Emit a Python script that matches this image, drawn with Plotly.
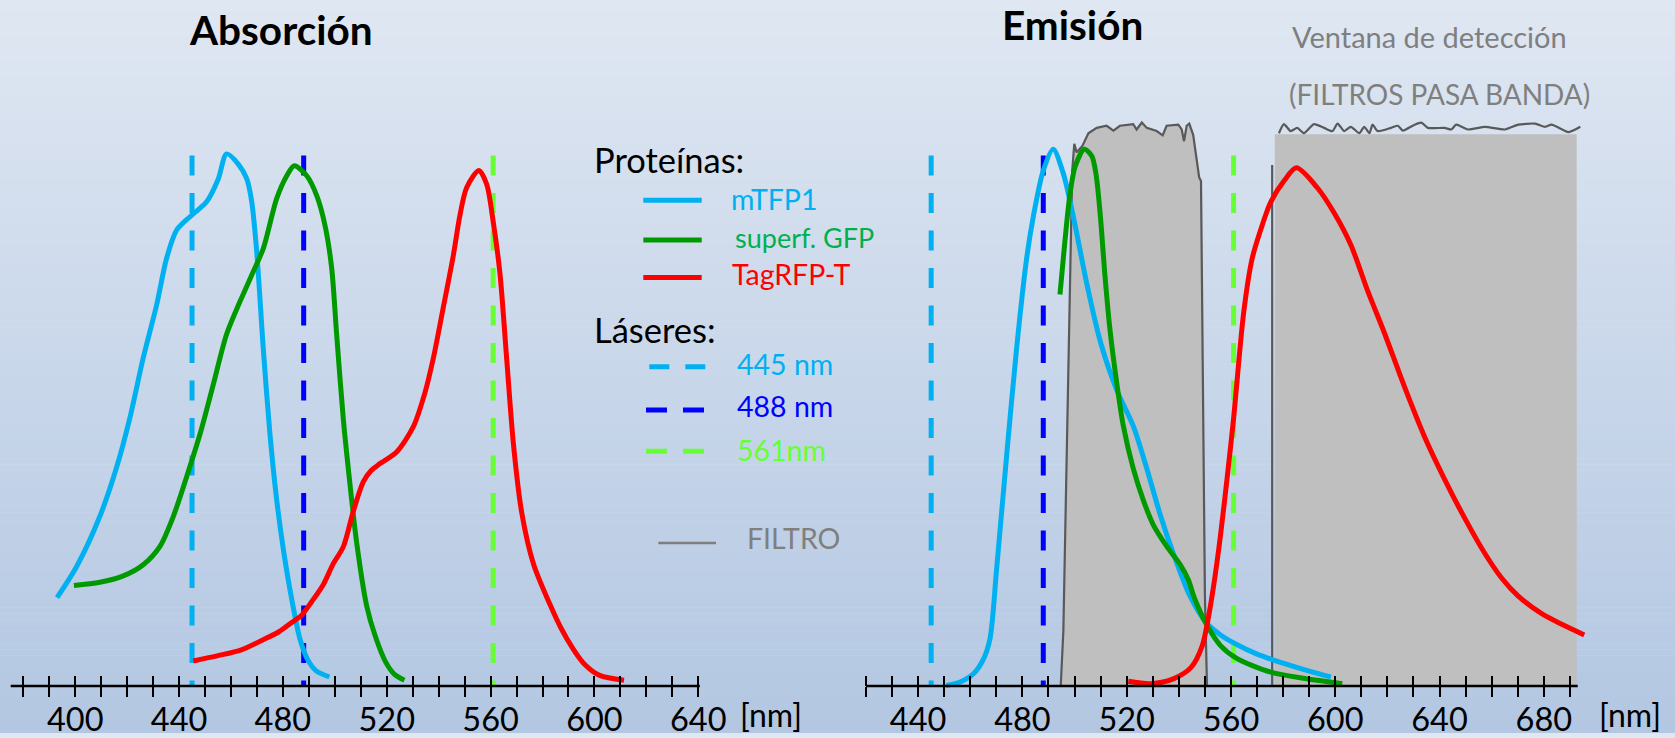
import plotly.graph_objects as go

W, H = 1675, 738

# ---------------- data (nm, relative intensity) ----------------
abs_mtfp1_nm = [393, 400.6, 409.5, 416, 421.1, 426.2, 431.4, 435.2, 439.1, 444.2, 450.6, 455.1, 458.3,
                462.8, 466.1, 468, 469.9, 472.5, 475, 477.6, 480.2, 483.4, 486.6, 489.5, 492.7, 497.9]
abs_mtfp1_y = [16.6, 22.5, 31.9, 41.2, 50.5, 61.7, 71.7, 80.4, 85.7, 88.2, 91.0, 95.3, 100,
               98.1, 95.3, 91.0, 81.7, 63, 47.4, 35, 25.6, 16.3, 8.8, 5, 2.9, 1.7]

abs_gfp_nm = [399.5, 409.5, 418.5, 426.2, 432.7, 437.8, 442.9, 448.1, 453.2, 458.3, 463.5, 468.6, 472.5,
              477.6, 481.5, 484.4, 489.2, 493, 496.2, 498.8, 500.7, 503.3, 505.8, 508.4, 512.3, 515.5,
              519.6, 523, 526.8]
abs_gfp_y = [18.9, 19.5, 20.7, 22.8, 26.3, 31.9, 39.3, 47.4, 56.7, 66.1, 72.3, 77.9, 82.3,
             91.6, 95.9, 97.8, 95.9, 92.2, 86.6, 78.5, 66.1, 50, 38.1, 27, 15, 9.5,
             4.5, 2.2, 1.1]

abs_rfp_nm = [445.5, 455, 464, 472, 478.5, 483, 487, 491, 495.6, 499.4, 503.3, 507.1, 511, 514,
              517.4, 523.8, 530.2, 534.7, 537.9, 541.8, 545.6, 548.2, 550.8, 555.5, 558.5, 561,
              563.6, 566.2, 568.8, 572, 576.5, 582.9, 587, 591.9, 596, 602, 611.4]
abs_rfp_y = [4.7, 5.7, 6.8, 8.6, 10.2, 11.8, 13.2, 15.8, 19.1, 23, 26.2, 32.8, 38.4, 40.5,
             41.8, 44, 48.7, 55.1, 61.5, 71.2, 80.8, 88.5, 93.7, 96.9, 94.3, 87.3,
             77.6, 61.5, 45.5, 32.6, 23, 15.3, 11, 6.9, 4.2, 2.0, 1.1]

em_mtfp1_nm = [450.7, 456.1, 461.2, 465, 467.6, 470.1, 474, 477.8, 481.6, 484.2, 488, 491.8, 495.7,
               499.5, 504.7, 509.8, 516.2, 522.5, 527.7, 532.8, 537.9, 544.3, 550.7, 556, 562.2,
               570, 580, 590, 598.3]
em_mtfp1_y = [0.1, 0.75, 2.3, 5, 9, 22, 43.6, 63.6, 80.3, 88.3, 96.9, 100.9, 96.3,
              88.3, 75.6, 64.9, 55.6, 48.9, 40.9, 32.3, 24.9, 16.9, 11.8, 9.6, 7.8,
              6.0, 4.3, 2.8, 1.7]

em_gfp_nm = [494.4, 496.3, 498.2, 500.2, 503.7, 506.6, 508.2, 509.8, 511.7, 513.6, 516.2, 518.7, 522.5,
             526.4, 530.2, 535.3, 540.4, 543.6, 546, 550.7, 556, 562.2, 575.3, 588.4, 602.7]
em_gfp_y = [73.6, 83.6, 92.3, 97.6, 100.9, 99.6, 96.3, 88.9, 76.9, 66.9, 56.9, 48.9, 40.9,
            34.9, 30.3, 26.3, 22.9, 20, 16.5, 11.5, 7.6, 5.2, 2.6, 1.4, 0.45]

em_rfp_nm = [520.6, 529.3, 538.1, 544.7, 549, 551.2, 553.4, 555.9, 558.5, 561, 564.9, 568.1, 571.3,
             575.2, 580.3, 585.1, 593.2, 599.6, 606, 612.4, 618.9, 626.5, 634.2, 641.9, 649.6,
             657.4, 663.8, 670.2, 679.2, 686.9, 695.5]
em_rfp_y = [0.9, 0.45, 1.4, 3.5, 7.6, 12.5, 19, 28, 39, 50.3, 70.3, 80.3, 85.6,
            90.9, 94.9, 97.4, 93.6, 88.9, 82.9, 74.3, 66.3, 56.3, 46.9, 38.9, 31.6,
            24.9, 20.3, 16.9, 13.6, 11.6, 9.6]

# band-pass filter transmission (detection windows)
filt1_nm = [494.7, 495.7, 497, 498.2, 499.1, 499.9, 500.8, 503, 505.3, 508.5, 512.3, 514.9, 517.4,
            522.5, 523.8, 525.8, 527.7, 531.5, 533.8, 535.3, 539.8, 541.1, 542, 543, 544, 545.5,
            547.8, 548.5, 549.2, 550, 550.8]
filt1_y = [0, 10.3, 43.6, 76.9, 96.9, 101.9, 100.3, 101.5, 103.9, 104.9, 105.3, 104.4, 105.3,
           105.6, 104.6, 105.9, 104.9, 104.3, 103.5, 105.3, 105.5, 104.6, 102.4, 105.3, 105.7, 103.6,
           95.6, 94.9, 56.9, 16.9, 0]

filt2_edge_nm = [575.8, 575.8]
filt2_edge_y = [0, 97.9]
filt2_top_nm = [578.4, 580.3, 582.9, 585.4, 588, 591.8, 595.7, 598.9, 600.9, 603.4, 606, 609.2, 611.1,
                613.1, 614.3, 616.3, 621.4, 624, 625.9, 630.4, 633, 635.5, 641.9, 644.5, 646.4, 650.9,
                657.4, 665.1, 670.2, 676.6, 680.5, 683, 689.5, 694]
filt2_top_y = [103.9, 105.6, 104.3, 104.9, 103.9, 105.6, 104.9, 104.3, 105.7, 104.3, 105.1, 103.9, 105.1,
               103.9, 105.5, 104.3, 104.9, 105.3, 104.4, 105.5, 105.9, 104.9, 104.9, 104.6, 105.5, 104.6,
               105.1, 104.6, 105.5, 105.7, 105.1, 105.5, 104.1, 105.1]
filt2_band_nm = [576.8, 692.6]
filt2_band_y = 103.7

lasers_nm = [445, 488, 561]
laser_top = 99.7

abs_ticks = list(range(380, 641, 10))
em_ticks = list(range(420, 691, 10))

# ---------------- geometry helpers ----------------
AXIS_PY = 690.7          # pixel row of both wavelength axes
UNIT_PX = 5.357          # pixels per intensity unit
y_range = [-(H - AXIS_PY) / UNIT_PX, AXIS_PY / UNIT_PX]
axis_pos = (H - AXIS_PY) / H


def px_x(p):
    return p / W


def px_y(p):
    return 1 - p / H


# left panel: 380 nm at px 23.3, 2.596 px/nm ; right: 420 nm at px 866, 2.607 px/nm
L_DOM = (5, 760)
R_DOM = (850, 1615)
L_range = [380 + (L_DOM[0] - 23.3) / 2.596, 380 + (L_DOM[1] - 23.3) / 2.596]
R_range = [420 + (R_DOM[0] - 866) / 2.607, 420 + (R_DOM[1] - 866) / 2.607]

C_CYAN = "#00B0F0"
C_GREEN = "#009A00"
C_RED = "#FF0000"
C_BLUE = "#0000FF"
C_LIME = "#66FF33"
laser_colors = [C_CYAN, C_BLUE, C_LIME]
FONT = "Lato"

fig = go.Figure()

# ---- filters (emission panel) ----
fig.add_trace(go.Scatter(x=[filt2_band_nm[0], filt2_band_nm[1], filt2_band_nm[1], filt2_band_nm[0]],
                         y=[0, 0, filt2_band_y, filt2_band_y], fill="toself", fillcolor="#BFBFBF",
                         mode="lines", line=dict(width=0), xaxis="x2", yaxis="y", hoverinfo="skip"))
fig.add_trace(go.Scatter(x=filt1_nm, y=filt1_y, fill="tozeroy", fillcolor="#BFBFBF", mode="lines",
                         line=dict(color="#595959", width=2.2), xaxis="x2", yaxis="y", hoverinfo="skip"))
fig.add_trace(go.Scatter(x=filt2_edge_nm, y=filt2_edge_y,
                         mode="lines", line=dict(color="#595959", width=2.2), xaxis="x2", yaxis="y",
                         hoverinfo="skip"))
fig.add_trace(go.Scatter(x=filt2_top_nm, y=filt2_top_y,
                         mode="lines", line=dict(color="#595959", width=2.2, shape="spline", smoothing=0.6),
                         xaxis="x2", yaxis="y", hoverinfo="skip"))

# ---- lasers ----
for xa in ["x", "x2"]:
    for nm, col in zip(lasers_nm, laser_colors):
        fig.add_trace(go.Scatter(x=[nm, nm], y=[laser_top, 0], mode="lines",
                                 line=dict(color=col, width=5, dash="20px,17.5px"),
                                 xaxis=xa, yaxis="y", hoverinfo="skip"))

# ---- spectra ----
spectra = [
    ("x", abs_mtfp1_nm, abs_mtfp1_y, C_CYAN),
    ("x", abs_gfp_nm, abs_gfp_y, C_GREEN),
    ("x", abs_rfp_nm, abs_rfp_y, C_RED),
    ("x2", em_mtfp1_nm, em_mtfp1_y, C_CYAN),
    ("x2", em_gfp_nm, em_gfp_y, C_GREEN),
    ("x2", em_rfp_nm, em_rfp_y, C_RED),
]
for xa, xs, ys, col in spectra:
    fig.add_trace(go.Scatter(x=xs, y=ys, mode="lines", line=dict(color=col, width=5, shape="spline",
                                                                   smoothing=0.8),
                             xaxis=xa, yaxis="y", hoverinfo="skip"))

# dummy traces so the overlay tick axes are drawn
fig.add_trace(go.Scatter(x=[abs_ticks[0]], y=[None], xaxis="x3", yaxis="y", hoverinfo="skip"))
fig.add_trace(go.Scatter(x=[em_ticks[0]], y=[None], xaxis="x4", yaxis="y", hoverinfo="skip"))


def xaxis_cfg(dom, rng, ticks, side_ticks, labels=True):
    return dict(domain=[px_x(dom[0]), px_x(dom[1])], range=rng, anchor="free", position=axis_pos,
                showgrid=False, zeroline=False, showline=False, ticks=side_ticks, ticklen=10,
                tickwidth=2, tickcolor="black", tickvals=ticks,
                ticktext=[(str(v) if v % 40 == 0 else "") for v in ticks] if labels else ["" for v in ticks],
                showticklabels=labels, tickfont=dict(family=FONT, size=32.5, color="black"),
                ticklabelstandoff=-5 if labels else 0,
                fixedrange=True)


shapes = []
# background gradient
top_c = (223, 231, 242)
bot_c = (179, 199, 226)
N = 123
for i in range(N):
    t = i / (N - 1)
    c = tuple(round(top_c[k] + (bot_c[k] - top_c[k]) * t) for k in range(3))
    shapes.append(dict(type="rect", xref="paper", yref="paper", x0=0, x1=1,
                       y0=1 - (i + 1) / N, y1=1 - i / N + 0.0005, layer="below",
                       line=dict(width=0), fillcolor="rgb(%d,%d,%d)" % c))
# axis base lines
shapes.append(dict(type="line", xref="x", yref="paper", x0=L_range[0] + (10.7 - L_DOM[0]) / 2.596,
                   x1=abs_ticks[-1] + 0.6, y0=axis_pos, y1=axis_pos, line=dict(color="black", width=2.5)))
shapes.append(dict(type="line", xref="x2", yref="paper", x0=em_ticks[0], x1=em_ticks[-1] + 3,
                   y0=axis_pos, y1=axis_pos, line=dict(color="black", width=2.5)))

# custom legend samples
leg_lines = [
    (643.3, 701.7, 201.7, C_CYAN, None, 5),
    (643.3, 701.7, 241.7, C_GREEN, None, 5),
    (643.3, 701.7, 279.3, C_RED, None, 5),
    (649.3, 707, 369.3, C_CYAN, "20px,16px", 5),
    (646, 704, 412.7, C_BLUE, "21px,16px", 5),
    (646, 704, 454.3, C_LIME, "21px,16px", 5),
    (658.3, 716, 546.7, "#7F7F7F", None, 2.5),
]
for x0, x1, yy, col, dash, wd in leg_lines:
    ln = dict(color=col, width=wd)
    if dash:
        ln["dash"] = dash
    shapes.append(dict(type="line", xref="paper", yref="paper", x0=px_x(x0), x1=px_x(x1),
                       y0=px_y(yy), y1=px_y(yy), line=ln))

annotations = []


def add_text(txt, x, y, size, color, xanchor="left", bold=False):
    annotations.append(dict(text=("<b>%s</b>" % txt) if bold else txt, x=px_x(x), y=px_y(y),
                            xref="paper", yref="paper", xanchor=xanchor, yanchor="middle",
                            showarrow=False, font=dict(family=FONT, size=size, color=color)))


add_text("Absorción", 280.5, 29.5, 40.5, "black", "center", True)
add_text("Emisión", 1072.5, 24.5, 40.5, "black", "center", True)
add_text("Ventana de detección", 1429, 36.4, 29, "#7F7F7F", "center")
add_text("(FILTROS PASA BANDA)", 1439, 94.7, 28, "#7F7F7F", "center")
add_text("Proteínas:", 592, 160.7, 34.5, "black")
add_text("mTFP1", 729, 200.2, 28.5, C_CYAN)
add_text("superf. GFP", 733, 239.5, 27, "#00B050")
add_text("TagRFP-T", 730, 275.9, 28.5, C_RED)
add_text("Láseres:", 592, 331.7, 34.5, "black")
add_text("445 nm", 735, 366.9, 28.5, C_CYAN)
add_text("488 nm", 735, 408.6, 28.5, C_BLUE)
add_text("561nm", 735, 452.6, 28.5, C_LIME)
add_text("FILTRO", 745, 541.6, 28.5, "#7F7F7F")
add_text("[nm]", 770.5, 719.5, 32, "black", "center")
add_text("[nm]", 1630, 719.5, 32, "black", "center")

fig.update_layout(
    width=W, height=H, autosize=False, margin=dict(l=0, r=0, t=0, b=0),
    paper_bgcolor="rgb(223,231,242)", plot_bgcolor="rgba(0,0,0,0)",
    showlegend=False,
    xaxis=xaxis_cfg(L_DOM, L_range, abs_ticks, "outside"),
    xaxis2=xaxis_cfg(R_DOM, R_range, em_ticks, "outside"),
    xaxis3={**xaxis_cfg(L_DOM, L_range, abs_ticks, "inside", labels=False), "overlaying": "x"},
    xaxis4={**xaxis_cfg(R_DOM, R_range, em_ticks, "inside", labels=False), "overlaying": "x2"},
    yaxis=dict(domain=[0, 1], range=y_range, visible=False, fixedrange=True),
    shapes=shapes, annotations=annotations,
)

page_fix = (
    "var s=document.createElement('style');"
    "s.innerHTML='html,body{margin:0;padding:0;overflow:hidden;height:738px;width:1675px;}"
    ".plotly-graph-div{overflow:hidden;line-height:0;font-size:0;}';"
    "document.head.appendChild(s);"
)
fig.write_html("out.html", config={"displayModeBar": False, "staticPlot": True}, post_script=page_fix)
